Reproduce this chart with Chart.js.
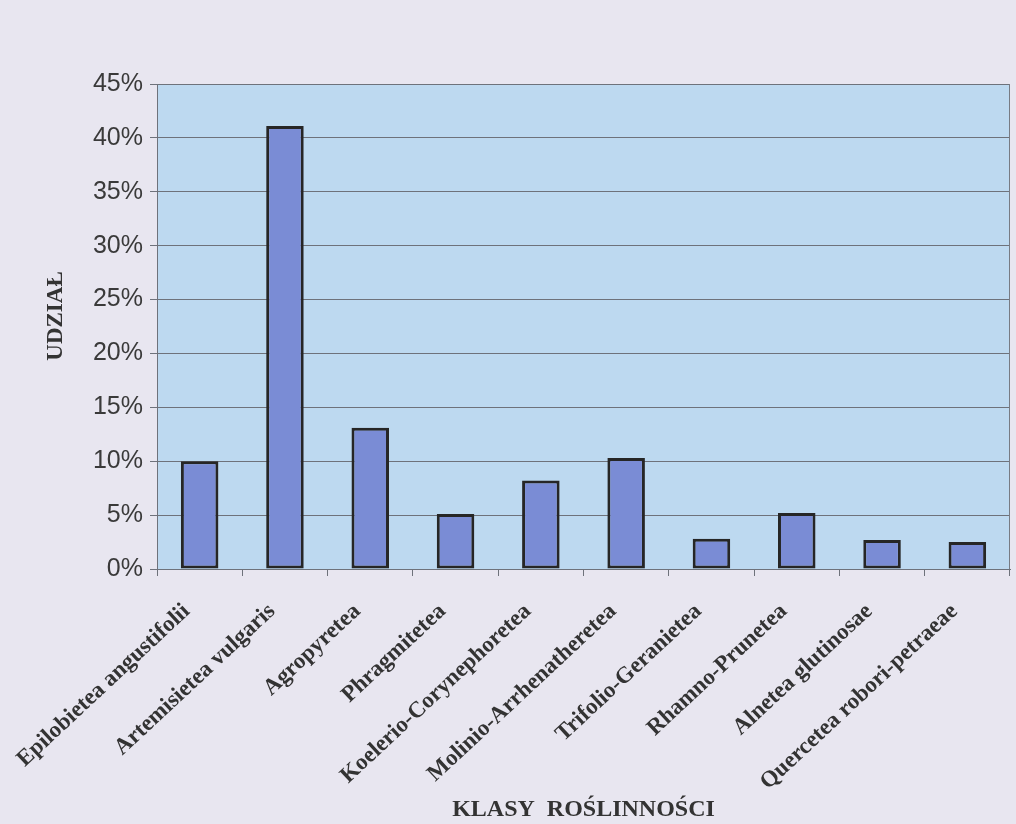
<!DOCTYPE html>
<html>
<head>
<meta charset="utf-8">
<script src="https://cdn.jsdelivr.net/npm/chart.js@4"></script>
<style>
  html, body { margin: 0; padding: 0; background: #e8e6f0; }
  canvas { display: block; }
</style>
</head>
<body>
<canvas id="udzialChart" width="1016" height="824"></canvas>
<script>
// vegetation classes and their share (%)
const classes = [
  'Epilobietea angustifolii',
  'Artemisietea vulgaris',
  'Agropyretea',
  'Phragmitetea',
  'Koelerio-Corynephoretea',
  'Molinio-Arrhenatheretea',
  'Trifolio-Geranietea',
  'Rhamno-Prunetea',
  'Alnetea glutinosae',
  'Quercetea robori-petraeae'
];
const shares = [10.0, 41.1, 13.1, 5.1, 8.2, 10.3, 2.8, 5.2, 2.7, 2.5];
const yTicks = [0, 5, 10, 15, 20, 25, 30, 35, 40, 45];

const xTitle = 'KLASY  ROŚLINNOŚCI';
const yTitle = 'UDZIAŁ';

const serif = '"Liberation Serif", "Times New Roman", serif';

// light blue plot area, right border, rotated y title
const plotFrame = {
  id: 'plotFrame',
  beforeDraw(chart) {
    const { ctx, chartArea: a } = chart;
    ctx.save();
    ctx.fillStyle = '#bdd9f0';
    ctx.fillRect(a.left, a.top, a.right - a.left, a.bottom - a.top);
    ctx.restore();
  },
  afterDraw(chart) {
    const { ctx, chartArea: a } = chart;
    ctx.save();
    ctx.strokeStyle = '#777b84';
    ctx.lineWidth = 1;
    ctx.beginPath();
    ctx.moveTo(a.right - 0.5, a.top);
    ctx.lineTo(a.right - 0.5, a.bottom);
    ctx.stroke();

    ctx.translate(56, 316);
    ctx.rotate(-Math.PI / 2);
    ctx.fillStyle = '#333';
    ctx.font = 'bold 23px ' + serif;
    ctx.textAlign = 'center';
    ctx.textBaseline = 'middle';
    ctx.fillText(yTitle, 0, 0);
    ctx.restore();
  }
};

new Chart(document.getElementById('udzialChart'), {
  type: 'bar',
  data: {
    labels: classes,
    datasets: [{
      data: shares,
      backgroundColor: '#7a8cd5',
      borderColor: '#262626',
      borderWidth: 3,
      borderSkipped: false,
      barPercentage: 0.44,
      categoryPercentage: 1.0
    }]
  },
  options: {
    responsive: false,
    animation: false,
    layout: { padding: { top: 84, right: 6, left: 0, bottom: 0 } },
    plugins: {
      legend: { display: false },
      tooltip: { enabled: false }
    },
    scales: {
      x: {
        afterFit: s => { s.height = 255; },
        grid: {
          offset: true,
          drawOnChartArea: false,
          drawTicks: true,
          tickLength: 7,
          color: '#6e727b'
        },
        border: { display: true, color: '#6e727b', width: 1 },
        ticks: {
          color: '#333',
          font: { family: serif, size: 23, weight: 'bold' },
          minRotation: 43,
          maxRotation: 43,
          autoSkip: false,
          padding: 22,
          labelOffset: -13
        },
        title: {
          display: true,
          text: xTitle,
          color: '#333',
          font: { family: serif, size: 24, weight: 'bold' },
          padding: { top: 4, bottom: 0 }
        }
      },
      y: {
        min: 0,
        max: 45,
        afterFit: s => { s.width = 157; },
        afterBuildTicks: s => { s.ticks = yTicks.map(v => ({ value: v })); },
        grid: {
          color: '#6e727b',
          lineWidth: 1,
          tickLength: 7
        },
        border: { display: true, color: '#6e727b', width: 1 },
        ticks: {
          color: '#3a3a3a',
          font: { family: '"Liberation Sans", Arial, sans-serif', size: 25 },
          padding: 7,
          callback: v => v + '%'
        }
      }
    }
  },
  plugins: [plotFrame]
});
</script>
</body>
</html>
